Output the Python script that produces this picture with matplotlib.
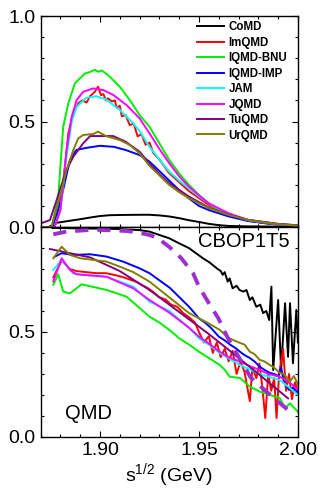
import matplotlib
matplotlib.use("Agg")
import matplotlib.pyplot as plt
from matplotlib.ticker import MultipleLocator

plt.rcParams["font.family"] = ["Liberation Sans", "DejaVu Sans"]
plt.rcParams["mathtext.fontset"] = "custom"
plt.rcParams["mathtext.rm"] = "Liberation Sans"

# ── model names / colours ───────────────────────────────────────────────────
models = ["CoMD", "ImQMD", "IQMD-BNU", "IQMD-IMP", "JAM", "JQMD", "TuQMD", "UrQMD"]
colors = ["#000000", "#ff0000", "#00ee00", "#0000ff", "#00ffff", "#ff00ff", "#800080", "#808000"]

# ── upper panel ─────────────────────────────────────────────────────────────
top_x = {
    "CoMD": [1.870, 1.874, 1.878, 1.885, 1.890, 1.895, 1.900, 1.905, 1.910, 1.920, 1.925,
             1.930, 1.935, 1.940, 1.945, 1.950, 1.955, 1.960, 1.965, 1.975, 1.990, 2.000],
    "ImQMD": [1.870, 1.8765, 1.878, 1.8814, 1.884, 1.8865, 1.889, 1.891, 1.8932, 1.895,
              1.8974, 1.899, 1.9005, 1.9017, 1.903, 1.904, 1.906, 1.9075, 1.9084, 1.910,
              1.911, 1.913, 1.915, 1.917, 1.919, 1.921, 1.923, 1.925, 1.927, 1.930, 1.935,
              1.945, 1.955, 1.965, 1.975, 1.985, 2.000],
    "IQMD-BNU": [1.870, 1.8755, 1.8789, 1.8814, 1.884, 1.8873, 1.8924, 1.895, 1.8974, 1.899,
                 1.901, 1.905, 1.910, 1.915, 1.920, 1.925, 1.930, 1.935, 1.940, 1.945,
                 1.950, 1.955, 1.960, 1.965, 1.975, 1.985, 2.000],
    "IQMD-IMP": [1.870, 1.876, 1.880, 1.8848, 1.888, 1.893, 1.900, 1.907, 1.913, 1.920,
                 1.925, 1.930, 1.935, 1.940, 1.945, 1.950, 1.955, 1.965, 1.975, 1.990, 2.000],
    "JAM": [1.870, 1.877, 1.880, 1.883, 1.8857, 1.8882, 1.893, 1.898, 1.903, 1.910, 1.9168,
            1.920, 1.925, 1.930, 1.935, 1.940, 1.945, 1.950, 1.955, 1.965, 1.975, 1.990, 2.000],
    "JQMD": [1.870, 1.877, 1.880, 1.8831, 1.8857, 1.8882, 1.8915, 1.8966, 1.9017, 1.9067,
             1.9134, 1.920, 1.925, 1.930, 1.935, 1.940, 1.945, 1.950, 1.955, 1.965, 1.975,
             1.990, 2.000],
    "TuQMD": [1.870, 1.8747, 1.8781, 1.883, 1.8865, 1.8915, 1.895, 1.9067, 1.913, 1.920,
              1.925, 1.930, 1.935, 1.945, 1.955, 1.965, 1.975, 1.990, 2.000],
    "UrQMD": [1.870, 1.8755, 1.8797, 1.8831, 1.8865, 1.889, 1.8915, 1.8966, 1.899, 1.903,
              1.910, 1.915, 1.920, 1.925, 1.930, 1.935, 1.940, 1.945, 1.955, 1.965, 1.975,
              1.990, 2.000],
}
top_y = {
    "CoMD": [0.0, 0.0, 0.02, 0.03, 0.037, 0.045, 0.052, 0.056, 0.057, 0.058, 0.058,
             0.055, 0.050, 0.042, 0.032, 0.024, 0.015, 0.009, 0.005, 0.003, 0.002, 0.002],
    "ImQMD": [0.0, 0.0, 0.02, 0.207, 0.444, 0.539, 0.586, 0.600, 0.590, 0.620,
              0.641, 0.665, 0.625, 0.630, 0.600, 0.610, 0.595, 0.600, 0.565, 0.575,
              0.525, 0.530, 0.483, 0.490, 0.430, 0.440, 0.390, 0.400, 0.350, 0.320, 0.255,
              0.170, 0.104, 0.060, 0.030, 0.015, 0.007],
    "IQMD-BNU": [0.0, 0.0, 0.144, 0.475, 0.587, 0.681, 0.728, 0.735, 0.745, 0.736,
                 0.742, 0.712, 0.665, 0.602, 0.531, 0.475, 0.397, 0.318, 0.254, 0.199,
                 0.152, 0.112, 0.080, 0.057, 0.030, 0.017, 0.008],
    "IQMD-IMP": [0.0, 0.0, 0.12, 0.318, 0.365, 0.375, 0.385, 0.380, 0.365, 0.341,
                 0.310, 0.265, 0.220, 0.175, 0.135, 0.100, 0.080, 0.050, 0.028, 0.012, 0.006],
    "JAM": [0.0, 0.0, 0.08, 0.33, 0.50, 0.570, 0.612, 0.620, 0.605, 0.555, 0.491,
            0.455, 0.380, 0.320, 0.262, 0.220, 0.183, 0.145, 0.112, 0.062, 0.032, 0.013, 0.007],
    "JQMD": [0.0, 0.0, 0.08, 0.365, 0.523, 0.602, 0.641, 0.657, 0.649, 0.626,
             0.578, 0.515, 0.444, 0.370, 0.302, 0.240, 0.191, 0.150, 0.112, 0.065, 0.033,
             0.014, 0.007],
    "TuQMD": [0.017, 0.033, 0.128, 0.27, 0.333, 0.397, 0.431, 0.431, 0.404, 0.357,
              0.300, 0.250, 0.207, 0.144, 0.092, 0.058, 0.034, 0.015, 0.008],
    "UrQMD": [0.0, 0.0, 0.144, 0.270, 0.365, 0.420, 0.436, 0.441, 0.452, 0.431,
              0.412, 0.389, 0.349, 0.290, 0.245, 0.199, 0.165, 0.136, 0.089, 0.057, 0.033,
              0.014, 0.007],
}

# ── lower panel ─────────────────────────────────────────────────────────────
bot_x = {
    "CoMD": [1.876, 1.880, 1.890, 1.900, 1.910, 1.920, 1.925, 1.930, 1.935, 1.940, 1.945,
             1.9485, 1.952, 1.9555, 1.959, 1.961, 1.962, 1.963, 1.9645, 1.9655, 1.967,
             1.969, 1.9705, 1.9724, 1.974, 1.9757, 1.977, 1.979, 1.981, 1.9824, 1.984,
             1.9855, 1.9866, 1.9875, 1.990, 1.9915, 1.9935, 1.995, 1.996, 1.9975, 1.9992,
             2.000],
    "ImQMD": [1.8764, 1.8806, 1.8848, 1.888, 1.893, 1.898, 1.903, 1.908, 1.912, 1.915, 1.918,
              1.921, 1.924, 1.927, 1.930, 1.933, 1.936, 1.939, 1.942, 1.945, 1.948, 1.950,
              1.9525, 1.955, 1.957, 1.959, 1.961, 1.963, 1.965, 1.967, 1.969, 1.971, 1.973,
              1.9757, 1.977, 1.979, 1.9805, 1.982, 1.9835, 1.985, 1.9865, 1.988, 1.9892,
              1.9905, 1.9925, 1.994, 1.9955, 1.997, 1.9985, 2.000],
    "IQMD-BNU": [1.8764, 1.8789, 1.8814, 1.8848, 1.8907, 1.9033, 1.9134, 1.925, 1.930,
                 1.935, 1.940, 1.945, 1.950, 1.955, 1.9605, 1.963, 1.9655, 1.9707, 1.9757,
                 1.9807, 1.9858, 1.9908, 1.9935, 1.996, 2.000],
    "IQMD-IMP": [1.8772, 1.8806, 1.8865, 1.895, 1.9033, 1.9117, 1.920, 1.925, 1.9353,
                 1.945, 1.950, 1.953, 1.956, 1.960, 1.963, 1.966, 1.969, 1.9707, 1.973,
                 1.9757, 1.978, 1.9807, 1.983, 1.9858, 1.988, 1.990, 1.9915, 1.993, 1.9955,
                 1.9975, 2.000],
    "JAM": [1.8764, 1.8806, 1.8865, 1.8915, 1.9033, 1.9168, 1.925, 1.935, 1.945, 1.950,
            1.955, 1.9605, 1.9707, 1.9807, 1.9908, 1.995, 2.000],
    "JQMD": [1.8764, 1.8806, 1.8848, 1.888, 1.9033, 1.9168, 1.925, 1.935, 1.945, 1.950,
             1.955, 1.9605, 1.965, 1.9707, 1.975, 1.9807, 1.985, 1.9908, 1.994, 1.997, 2.000],
    "TuQMD": [1.8747, 1.895, 1.910, 1.925, 1.935, 1.945, 1.955, 1.965, 1.9807, 1.995],
    "UrQMD": [1.8764, 1.8806, 1.8848, 1.890, 1.9033, 1.910, 1.9168, 1.925, 1.935, 1.945,
              1.950, 1.9545, 1.9605, 1.965, 1.9707, 1.973, 1.9757, 1.978, 1.9807, 1.983,
              1.9858, 1.988, 1.9908, 1.993, 1.9958, 1.998, 2.000],
}
bot_y = {
    "CoMD": [0.995, 0.995, 0.993, 0.992, 0.990, 0.985, 0.978, 0.962, 0.946, 0.922, 0.899,
             0.875, 0.851, 0.830, 0.803, 0.790, 0.772, 0.785, 0.740, 0.755, 0.708,
             0.720, 0.700, 0.692, 0.700, 0.652, 0.665, 0.620, 0.630, 0.590, 0.600,
             0.557, 0.716, 0.319, 0.652, 0.319, 0.637, 0.382, 0.637, 0.351, 0.605,
             0.450],
    "ImQMD": [0.76, 0.84, 0.80, 0.79, 0.785, 0.78, 0.78, 0.77, 0.76, 0.75, 0.74,
              0.725, 0.71, 0.69, 0.665, 0.655, 0.63, 0.62, 0.59, 0.57, 0.545, 0.50,
              0.45, 0.48, 0.40, 0.45, 0.38, 0.42, 0.36, 0.41, 0.30, 0.36, 0.31,
              0.17, 0.33, 0.28, 0.35, 0.24, 0.09, 0.30, 0.22, 0.28, 0.09,
              0.30, 0.42, 0.22, 0.30, 0.18, 0.26, 0.22],
    "IQMD-BNU": [0.724, 0.775, 0.692, 0.684, 0.727, 0.700, 0.668, 0.573, 0.545,
                 0.510, 0.470, 0.440, 0.406, 0.376, 0.343, 0.320, 0.287, 0.281, 0.240,
                 0.216, 0.200, 0.186, 0.138, 0.160, 0.120],
    "IQMD-IMP": [0.859, 0.875, 0.867, 0.870, 0.859, 0.835, 0.803, 0.780, 0.710,
                 0.620, 0.565, 0.545, 0.520, 0.478, 0.460, 0.438, 0.420, 0.406, 0.390,
                 0.376, 0.360, 0.335, 0.320, 0.305, 0.300, 0.290, 0.330, 0.260, 0.224,
                 0.235, 0.210],
    "JAM": [0.795, 0.843, 0.779, 0.771, 0.763, 0.716, 0.645, 0.600, 0.520, 0.470,
            0.440, 0.400, 0.343, 0.300, 0.271, 0.240, 0.200],
    "JQMD": [0.740, 0.851, 0.795, 0.775, 0.763, 0.708, 0.652, 0.592, 0.520, 0.478,
             0.445, 0.406, 0.380, 0.359, 0.340, 0.319, 0.300, 0.287, 0.270, 0.250, 0.224],
    "TuQMD": [0.895, 0.855, 0.790, 0.700, 0.630, 0.560, 0.490, 0.415, 0.295, 0.184],
    "UrQMD": [0.851, 0.906, 0.867, 0.851, 0.835, 0.811, 0.785, 0.740, 0.665, 0.590,
              0.565, 0.543, 0.510, 0.471, 0.448, 0.440, 0.406, 0.395, 0.367, 0.360,
              0.343, 0.330, 0.305, 0.300, 0.263, 0.290, 0.250],
}

# CBOP1T5 curve (dashed)
cbop_x = [1.8764, 1.883, 1.895, 1.900, 1.9134, 1.920, 1.925, 1.929, 1.935, 1.941,
          1.947, 1.950, 1.955, 1.9597, 1.9638, 1.968, 1.972, 1.976, 1.980, 1.989, 1.9967]
cbop_y = [0.965, 0.978, 0.986, 0.986, 0.981, 0.972, 0.962, 0.948, 0.905, 0.852,
          0.780, 0.716, 0.637, 0.567, 0.486, 0.414, 0.350, 0.285, 0.250, 0.176, 0.115]


fig = plt.figure(figsize=(3.2, 4.9), dpi=100)
ax_top = fig.add_axes([0.127, 0.5367, 0.804, 0.4306])
ax_bot = fig.add_axes([0.127, 0.1082, 0.804, 0.4286], sharex=ax_top)

for name, col in zip(models, colors):
    ax_top.plot(top_x[name], top_y[name], color=col, lw=1.4, label=name)
    ax_bot.plot(bot_x[name], bot_y[name], color=col, lw=1.4)

ax_bot.plot(cbop_x, cbop_y, color="#9b2fd0", lw=2.8, dashes=(3.4, 2.3))

for ax in (ax_top, ax_bot):
    ax.set_xlim(1.87, 2.00)
    ax.set_ylim(0.0, 1.0)
    ax.xaxis.set_major_locator(MultipleLocator(0.05))
    ax.xaxis.set_minor_locator(MultipleLocator(0.01))
    ax.yaxis.set_major_locator(MultipleLocator(0.5))
    ax.yaxis.set_minor_locator(MultipleLocator(0.1))
    ax.tick_params(which="both", direction="in", top=True, right=True, labelsize=14, width=0.8)
    ax.tick_params(which="major", length=4)
    ax.tick_params(which="minor", length=2.5)
    for sp in ax.spines.values():
        sp.set_linewidth(1.0)

ax_top.tick_params(labelbottom=False)
ax_top.set_yticks([0.0, 0.5, 1.0])
ax_top.set_yticklabels(["0.0", "0.5", "1.0"])
ax_bot.set_yticks([0.0, 0.5, 1.0])
ax_bot.set_yticklabels(["0.0", "0.5", ""])
ax_bot.set_xticks([1.90, 1.95, 2.00])
ax_bot.set_xticklabels(["1.90", "1.95", "2.00"])

ax_bot.set_xlabel(r"s$^{1/2}$ (GeV)", fontsize=14, labelpad=2)

ax_top.legend(loc="upper left", bbox_to_anchor=(0.607, 0.975), frameon=False,
              prop={"weight": "bold", "size": 8.3}, handlelength=2.4,
              handletextpad=0.35, labelspacing=0.3, borderpad=0, borderaxespad=0)

ax_bot.text(0.969, 0.929, "CBOP1T5", transform=ax_bot.transAxes, ha="right", va="center",
            fontsize=14.5)
ax_bot.text(0.094, 0.114, "QMD", transform=ax_bot.transAxes, ha="left", va="center",
            fontsize=14.5)

fig.savefig("out.png", dpi=100)
